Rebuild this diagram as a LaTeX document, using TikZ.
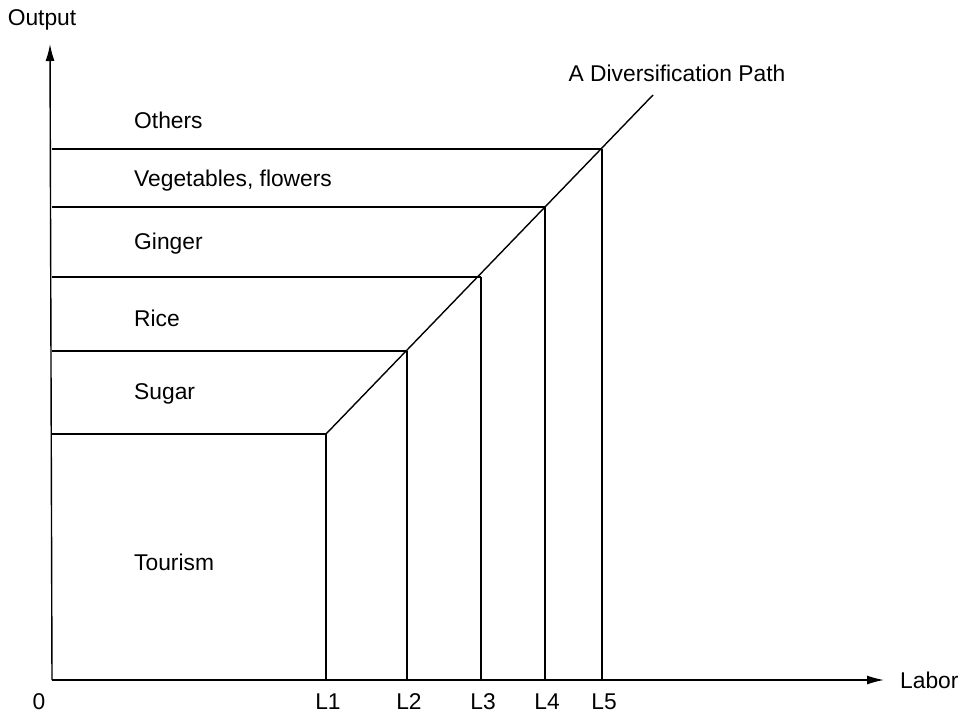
\documentclass[tikz,border=0pt]{standalone}
\usepackage{fontspec}
\setmainfont{Liberation Sans}
\usetikzlibrary{arrows.meta}
\begin{document}
\begin{tikzpicture}[x=1pt,y=-1pt,
  ln/.style={line width=1.4pt,black},
  axis/.style={ln,-{Latex[length=17pt,width=9pt]}},
  lbl/.style={font=\fontsize{22.8}{27}\selectfont,inner sep=0pt},
  sector/.style={lbl,anchor=west}]
\useasboundingbox (0,0) rectangle (970,716);
% axes
\coordinate (O) at (52,680);
\coordinate (ytop) at (50,44);
\coordinate (xend) at (884,680);
\draw[axis] (O) -- (ytop);
\draw[axis] (O) -- (xend);
\node[lbl] (output) at (42,20) {Output};
\node[lbl] (zero) at (39,702) {0};
\node[lbl,anchor=west] (labor) at (900,680) {Labor};
% corners on the diversification path
\coordinate (c1) at (326,434);
\coordinate (c2) at (407,351);
\coordinate (c3) at (481,277);
\coordinate (c4) at (545,207);
\coordinate (c5) at (602,149);
\coordinate (pend) at (653,95);
% horizontal and vertical lines
\foreach \i in {1,...,5} {
  \draw[ln] (O |- c\i) -- (c\i);
  \draw[ln] (c\i) -- (c\i |- O);
}
\draw[ln] (c1) -- (pend);
% L labels
\foreach \i in {1,...,5} {
  \node[lbl] (L\i) at ([xshift=2pt]c\i |- 0,702) {L\i};
}
\node[lbl] (path) at (677,73) {A Diversification Path};
% sector labels
\node[sector] (others) at (134,120) {Others};
\node[sector] (veg) at (134,181) {Vegetables, flowers};
\node[sector] (ginger) at (134,244) {Ginger};
\node[sector] (rice) at (134,318) {Rice};
\node[sector] (sugar) at (134,394) {Sugar};
\node[sector] (tourism) at (134,562) {Tourism};
\end{tikzpicture}
\end{document}
